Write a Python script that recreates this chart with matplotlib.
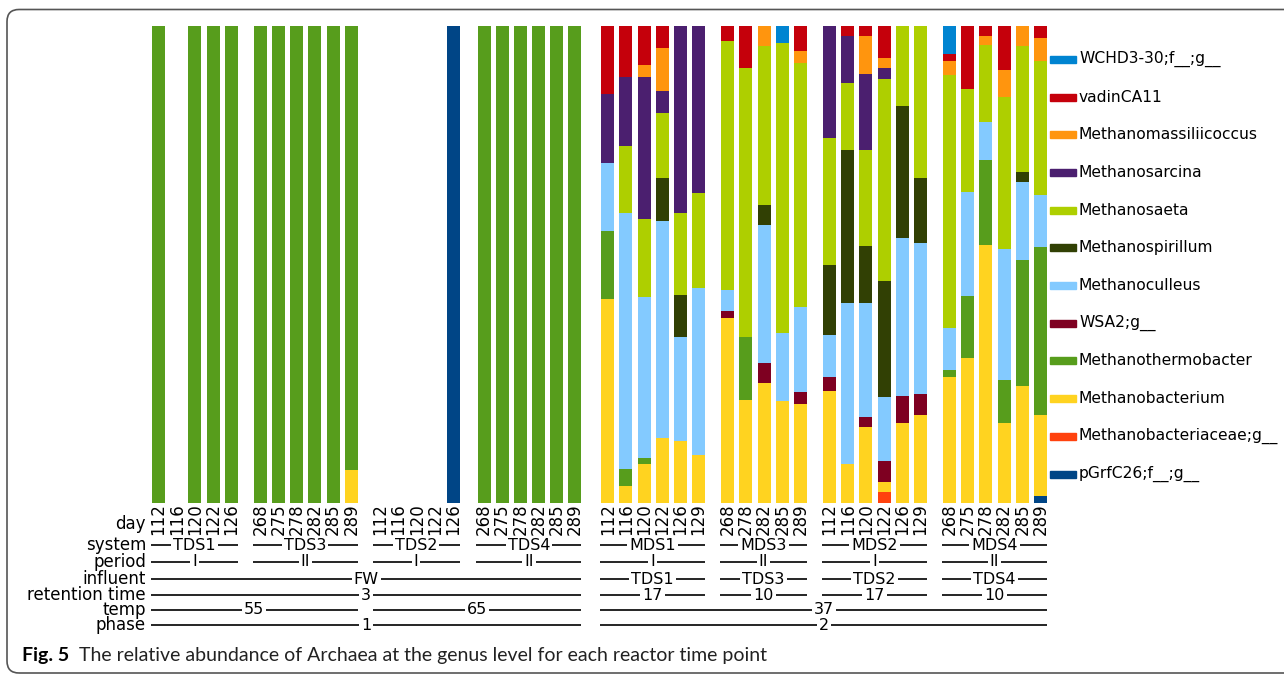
import matplotlib
matplotlib.use("Agg")
import matplotlib.pyplot as plt
from matplotlib.patches import Rectangle, FancyBboxPatch
from matplotlib.transforms import blended_transform_factory, IdentityTransform

W, H = 1284, 674

# sample groups, left to right
systems = ["TDS1", "TDS3", "TDS2", "TDS4", "MDS1", "MDS3", "MDS2", "MDS4"]
days = [
    ["112", "116", "120", "122", "126"],
    ["268", "275", "278", "282", "285", "289"],
    ["112", "116", "120", "122", "126"],
    ["268", "275", "278", "282", "285", "289"],
    ["112", "116", "120", "122", "126", "129"],
    ["268", "278", "282", "285", "289"],
    ["112", "116", "120", "122", "126", "129"],
    ["268", "275", "278", "282", "285", "289"],
]
periods = ["I", "II", "I", "II", "I", "II", "I", "II"]
mds_influent = ["TDS1", "TDS3", "TDS2", "TDS4"]
mds_retention = ["17", "10", "17", "10"]

# relative abundance (%) per sample, same order as above
# TDS1 | TDS3 | TDS2 | TDS4 | MDS1 | MDS3 | MDS2 | MDS4
pgrfc26 = ([0] * 15 + [100] + [0] * 6
           + [0] * 6 + [0] * 5 + [0] * 6 + [0, 0, 0, 0, 0, 1.3])
methanobacteriaceae = ([0] * 22
                       + [0] * 6 + [0] * 5 + [0, 0, 0, 2.3, 0, 0] + [0] * 6)
methanobacterium = ([0] * 10 + [6.9] + [0] * 11
                    + [42.7, 3.5, 8.1, 13.6, 12.9, 10.0]
                    + [38.8, 21.6, 25.0, 21.4, 20.6]
                    + [23.5, 8.0, 15.9, 2.1, 16.6, 18.3]
                    + [26.4, 30.4, 54.1, 16.6, 24.5, 17.0])
methanothermobacter = ([100, 0, 100, 100, 100]
                       + [100, 100, 100, 100, 100, 93.1]
                       + [0, 0, 0, 0, 0]
                       + [100, 100, 100, 100, 100, 100]
                       + [14.3, 3.6, 1.3, 0, 0, 0]
                       + [0, 13.2, 0, 0, 0]
                       + [0] * 6
                       + [1.5, 13.0, 17.8, 9.2, 26.4, 35.4])
wsa2 = ([0] * 22
        + [0] * 6
        + [1.4, 0, 4.2, 0, 2.5]
        + [2.9, 0, 2.1, 4.4, 5.7, 4.4]
        + [0] * 6)
methanoculleus = ([0] * 22
                  + [14.3, 53.6, 33.8, 45.5, 21.8, 35.1]
                  + [4.5, 0, 29.1, 14.2, 18.0]
                  + [8.8, 33.9, 23.9, 13.4, 33.3, 31.8]
                  + [8.8, 21.8, 8.0, 27.3, 16.3, 10.9])
methanospirillum = ([0] * 22
                    + [0, 0, 0, 9.0, 8.8, 0]
                    + [0, 0, 4.2, 0, 0]
                    + [14.6, 32.1, 12.0, 24.3, 27.7, 13.6]
                    + [0, 0, 0, 0, 2.1, 0])
methanosaeta = ([0] * 22
                + [0, 14.2, 16.4, 13.6, 17.2, 19.9]
                + [52.2, 56.4, 33.4, 60.9, 51.1]
                + [26.7, 14.1, 20.1, 42.3, 16.8, 31.9]
                + [53.0, 21.5, 16.1, 31.9, 26.4, 28.1])
methanosarcina = ([0] * 22
                  + [14.5, 14.3, 29.6, 4.6, 39.2, 35.0]
                  + [0] * 5
                  + [23.7, 9.9, 15.9, 2.3, 0, 0]
                  + [0] * 6)
methanomassiliicoccus = ([0] * 22
                         + [0, 0, 2.7, 9.0, 0, 0]
                         + [0, 0, 4.1, 0, 2.5]
                         + [0, 0, 8.0, 2.1, 0, 0]
                         + [2.9, 0, 1.9, 5.8, 4.2, 4.8])
vadinca11 = ([0] * 22
             + [14.2, 10.8, 8.2, 4.6, 0, 0]
             + [3.1, 8.8, 0, 0, 5.2]
             + [0, 2.1, 2.1, 6.7, 0, 0]
             + [1.5, 13.2, 2.1, 9.2, 0, 2.5])
wchd3_30 = ([0] * 22
            + [0] * 6
            + [0, 0, 0, 3.5, 0]
            + [0] * 6
            + [5.9, 0, 0, 0, 0, 0])

# bottom to top
taxa = [
    ("pGrfC26;f__;g__", pgrfc26, "#004586"),
    ("Methanobacteriaceae;g__", methanobacteriaceae, "#ff420e"),
    ("Methanobacterium", methanobacterium, "#ffd320"),
    ("Methanothermobacter", methanothermobacter, "#579d1c"),
    ("WSA2;g__", wsa2, "#7e0021"),
    ("Methanoculleus", methanoculleus, "#83caff"),
    ("Methanospirillum", methanospirillum, "#314004"),
    ("Methanosaeta", methanosaeta, "#aecf00"),
    ("Methanosarcina", methanosarcina, "#4b1f6f"),
    ("Methanomassiliicoccus", methanomassiliicoccus, "#ff950e"),
    ("vadinCA11", vadinca11, "#c5000b"),
    ("WCHD3-30;f__;g__", wchd3_30, "#0084d1"),
]

# x positions with a gap between groups
gaps = [0, 1.6, 1.6, 1.7, 1.8, 1.6, 1.6, 1.6]
xs, groups = [], []
for i, d in enumerate(days):
    start = xs[-1] + gaps[i] if xs else 0.0
    g = [start + k for k in range(len(d))]
    groups.append((g[0], g[-1]))
    xs += g

slot = (1040.5 - 158.5) / xs[-1]
fig = plt.figure(figsize=(W / 100, H / 100), dpi=100)
ax = fig.add_axes([148 / W, (H - 502.5) / H, 900 / W, 476.5 / H])

bottom = [0.0] * len(xs)
for name, vals, col in taxa:
    ax.bar(xs, vals, width=13 / slot, bottom=bottom, color=col, linewidth=0)
    bottom = [b + v for b, v in zip(bottom, vals)]

ax.set_xlim((148 - 158.5) / slot, (1048 - 158.5) / slot)
ax.set_ylim(0, 100)
ax.axis("off")

tr = blended_transform_factory(ax.transData, fig.transFigure)


def fy(ypx):
    return 1 - ypx / H


# day labels under each bar
all_days = [d for grp in days for d in grp]
for x, d in zip(xs, all_days):
    ax.text(x, fy(503), d, transform=tr, rotation=90, ha="center", va="top",
            fontsize=12, clip_on=False)

row_y = {"day": 524, "system": 545, "period": 562, "influent": 579,
         "retention time": 595, "temp": 610, "phase": 625}
for name, y in row_y.items():
    fig.text(146 / W, fy(y), name, ha="right", va="center", fontsize=12)


def span(x0, x1, y, label):
    ax.plot([x0, x1], [fy(y), fy(y)], color="black", lw=1.2,
            transform=tr, clip_on=False, solid_capstyle="butt")
    ax.text((x0 + x1) / 2, fy(y), label, transform=tr, ha="center",
            va="center", fontsize=11.5, clip_on=False,
            bbox=dict(boxstyle="square,pad=0.12", fc="white", ec="none"))


edges = [(a - 0.42, b + 0.36) for a, b in groups]
for (x0, x1), s, p in zip(edges, systems, periods):
    span(x0, x1, row_y["system"], s)
    span(x0, x1, row_y["period"], p)

tds = (edges[0][0], edges[3][1])
mds = (edges[4][0], edges[7][1])
span(tds[0], tds[1], row_y["influent"], "FW")
span(tds[0], tds[1], row_y["retention time"], "3")
for (x0, x1), inf, rt in zip(edges[4:], mds_influent, mds_retention):
    span(x0, x1, row_y["influent"], inf)
    span(x0, x1, row_y["retention time"], rt)
span(edges[0][0], edges[1][1], row_y["temp"], "55")
span(edges[2][0], edges[3][1], row_y["temp"], "65")
span(mds[0], mds[1], row_y["temp"], "37")
span(tds[0], tds[1], row_y["phase"], "1")
span(mds[0], mds[1], row_y["phase"], "2")

# legend, top entry first
for i, (name, vals, col) in enumerate(reversed(taxa)):
    y = 59.3 + i * 37.7
    fig.patches.append(Rectangle((1050, H - y - 3.5), 26, 7, color=col,
                                 transform=IdentityTransform(), figure=fig))
    fig.text(1079 / W, fy(y), name, ha="left", va="center", fontsize=11.2)

# caption and frame
fig.text(22 / W, fy(655), "Fig. 5", ha="left", va="center", fontsize=14,
         fontweight="bold", family="Lato")
fig.text(79 / W, fy(655),
         "The relative abundance of Archaea at the genus level for each reactor time point",
         ha="left", va="center", fontsize=14, family="Lato", color="#222222")
fig.patches.append(FancyBboxPatch((7, 1), 3000, H - 9.5 - 1,
                                  boxstyle="round,pad=0,rounding_size=12",
                                  fc="none", ec="#555555", lw=1.2,
                                  transform=IdentityTransform(), figure=fig))

fig.savefig("out.png", dpi=100)
